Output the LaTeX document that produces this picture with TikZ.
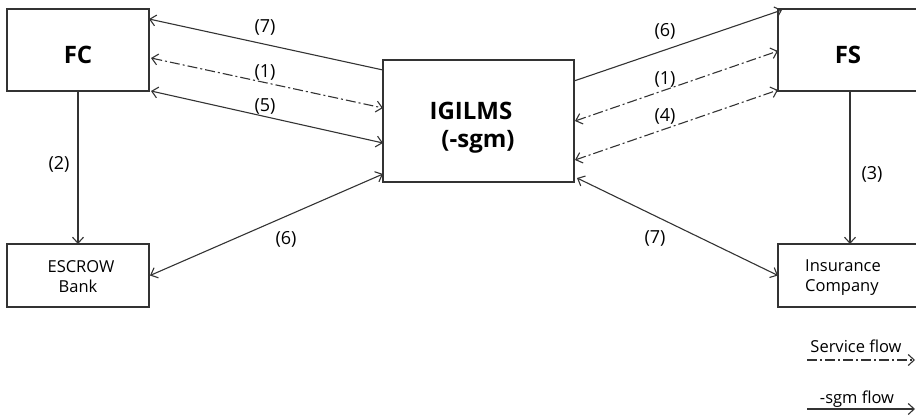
\documentclass[tikz,border=0pt]{standalone}
\usepackage{fontspec}
\setmainfont{Open Sans}
\usetikzlibrary{arrows.meta,calc}
\begin{document}
\begin{tikzpicture}[x=1pt,y=-1pt,
  box/.style={draw=black!80,line width=1.2pt,inner sep=0pt,outer sep=0pt,minimum width=#1},
  flow/.style={draw=black!80,line width=1.1pt},
  svc/.style={flow,dash pattern=on 10pt off 3pt on 2pt off 3pt},
  tip/.style={-{Straight Barb[length=6pt,width=11pt,line width=1.1pt]}},
  tips/.style={{Straight Barb[length=6pt,width=11pt,line width=1.1pt]}-{Straight Barb[length=6pt,width=11pt,line width=1.1pt]}},
  big/.style={font=\fontsize{24}{28}\selectfont\bfseries,anchor=base,inner sep=0pt},
  txt/.style={font=\fontsize{16.5}{20}\selectfont,anchor=base,inner sep=0pt},
  lbl/.style={font=\fontsize{18}{22}\selectfont,inner sep=0pt}]
\useasboundingbox (0,0) rectangle (916,416);
\clip (0,0) rectangle (916,416);
% boxes
\node[box=142,minimum height=82] (FC) at (78,50) {};
\node[box=191,minimum height=122] (IG) at (478.5,121) {};
\node[box=140,minimum height=82] (FS) at (848,50) {};
\node[box=142,minimum height=63] (ESC) at (78,275.5) {};
\node[box=140,minimum height=63] (INS) at (848,275.5) {};
% box texts
\node[big] (fct) at (78,63) {FC};
\node[big] (fst) at (848,63) {FS};
\node[big] (igt1) at (471,119) {IGILMS};
\node[big] (igt2) at (478,147) {(-sgm)};
\node[txt] (esc1) at (81,272) {ESCROW};
\node[txt] (esc2) at (78,292) {Bank};
\node[txt,anchor=base west] (ins1) at (805,271) {Insurance};
\node[txt,anchor=base west] (ins2) at (805,291) {Company};
% connectors left
\draw[flow,tip] ($(IG.north west)+(0,10)$) -- ($(FC.north east)+(0,10)$);
\draw[svc,tips] ($(FC.north east)+(2,49)$) -- ($(IG.north west)+(0,48)$);
\draw[flow,tips] ($(FC.south east)+(2,0)$) -- ($(IG.north west)+(0,83)$);
\draw[flow,tips] ($(ESC.east)+(1,0)$) -- ($(IG.south west)+(0,-8)$);
\draw[flow,tip] (FC.south) -- (ESC.north);
% connectors right
\draw[flow,tip] ($(IG.north east)+(0,21)$) -- ($(FS.north west)+(4,1)$);
\draw[svc,tips] ($(IG.north east)+(1,61)$) -- ($(FS.north west)+(0,42)$);
\draw[svc,tips] ($(IG.north east)+(1,100)$) -- ($(FS.south west)+(0,-1)$);
\draw[flow,tips] ($(IG.south east)+(3,-4)$) -- (INS.west);
\draw[flow,tip] ($(FS.south)+(2,0)$) -- ($(INS.north)+(2,0)$);
% labels
\node[lbl] (l7a) at (265,27) {(7)};
\node[lbl] (l1a) at (265,72) {(1)};
\node[lbl] (l5) at (265,106) {(5)};
\node[lbl] (l2) at (59,164) {(2)};
\node[lbl] (l6a) at (286,239) {(6)};
\node[lbl] (l6b) at (665,31) {(6)};
\node[lbl] (l1b) at (665,79) {(1)};
\node[lbl] (l4) at (665,116) {(4)};
\node[lbl] (l3) at (872,174) {(3)};
\node[lbl] (l7b) at (655,238) {(7)};
% legend
\node[txt] (leg1) at (856,352) {Service flow};
\node[txt] (leg2) at (857,403) {-sgm flow};
\coordinate (s1) at (807,360);
\coordinate (s2) at (915,360);
\coordinate (g1) at (807,409);
\coordinate (g2) at (915,409);
\draw[svc,tip] (s1) -- (s2);
\draw[flow,tip] (g1) -- (g2);
\end{tikzpicture}
\end{document}
